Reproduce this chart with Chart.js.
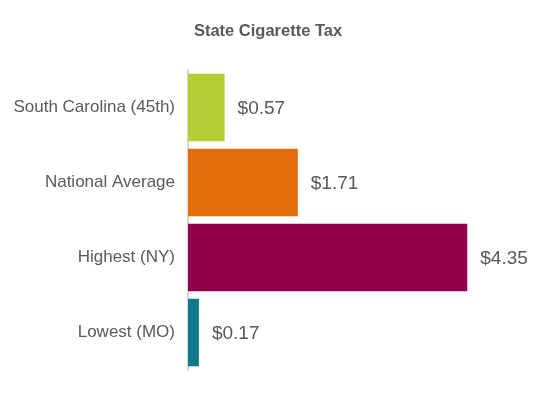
<!DOCTYPE html>
<html>
<head>
<meta charset="utf-8">
<script src="https://cdn.jsdelivr.net/npm/chart.js@4"></script>
<style>
  html, body { margin: 0; padding: 0; background: #fff; }
  #wrap { width: 537px; height: 397px; }
</style>
</head>
<body>
<div id="wrap"><canvas id="taxChart"></canvas></div>
<script>
const categories = ["South Carolina (45th)", "National Average", "Highest (NY)", "Lowest (MO)"];
const taxValues = [0.57, 1.71, 4.35, 0.17];
const valueLabels = ["$0.57", "$1.71", "$4.35", "$0.17"];
const barColors = ["#b5cc34", "#e36c0a", "#93004a", "#0e7a8b"];

// title + value labels drawn by hand
const extras = {
  id: "extras",
  afterDatasetsDraw(chart) {
    const ctx = chart.ctx;
    ctx.save();
    ctx.fillStyle = "#595959";
    ctx.font = "bold 16.5px 'Liberation Sans', Arial, sans-serif";
    ctx.textAlign = "center";
    ctx.textBaseline = "middle";
    ctx.fillText("State Cigarette Tax", 268, 31);

    ctx.font = "19px 'Liberation Sans', Arial, sans-serif";
    ctx.textAlign = "left";
    chart.getDatasetMeta(0).data.forEach((bar, i) => {
      ctx.fillText(valueLabels[i], bar.x + 13, bar.y + 1);
    });
    ctx.restore();
  }
};

new Chart(document.getElementById("taxChart"), {
  type: "bar",
  data: {
    labels: categories,
    datasets: [{
      data: taxValues,
      backgroundColor: barColors,
      categoryPercentage: 0.9,
      barPercentage: 1.0,
    }],
  },
  options: {
    indexAxis: "y",
    responsive: true,
    maintainAspectRatio: false,
    animation: false,
    layout: { padding: { top: 70, bottom: 27, right: 28, left: 0 } },
    plugins: {
      legend: { display: false },
      tooltip: { enabled: false },
    },
    scales: {
      x: { display: false, min: 0, max: 5 },
      y: {
        afterFit(scale) { scale.width = 188; },
        grid: { display: false, drawTicks: false },
        border: { color: "#d9d9d9", width: 2 },
        ticks: {
          color: "#595959",
          padding: 13,
          font: { size: 17, family: "'Liberation Sans', Arial, sans-serif" },
        },
      },
    },
  },
  plugins: [extras],
});
</script>
</body>
</html>
